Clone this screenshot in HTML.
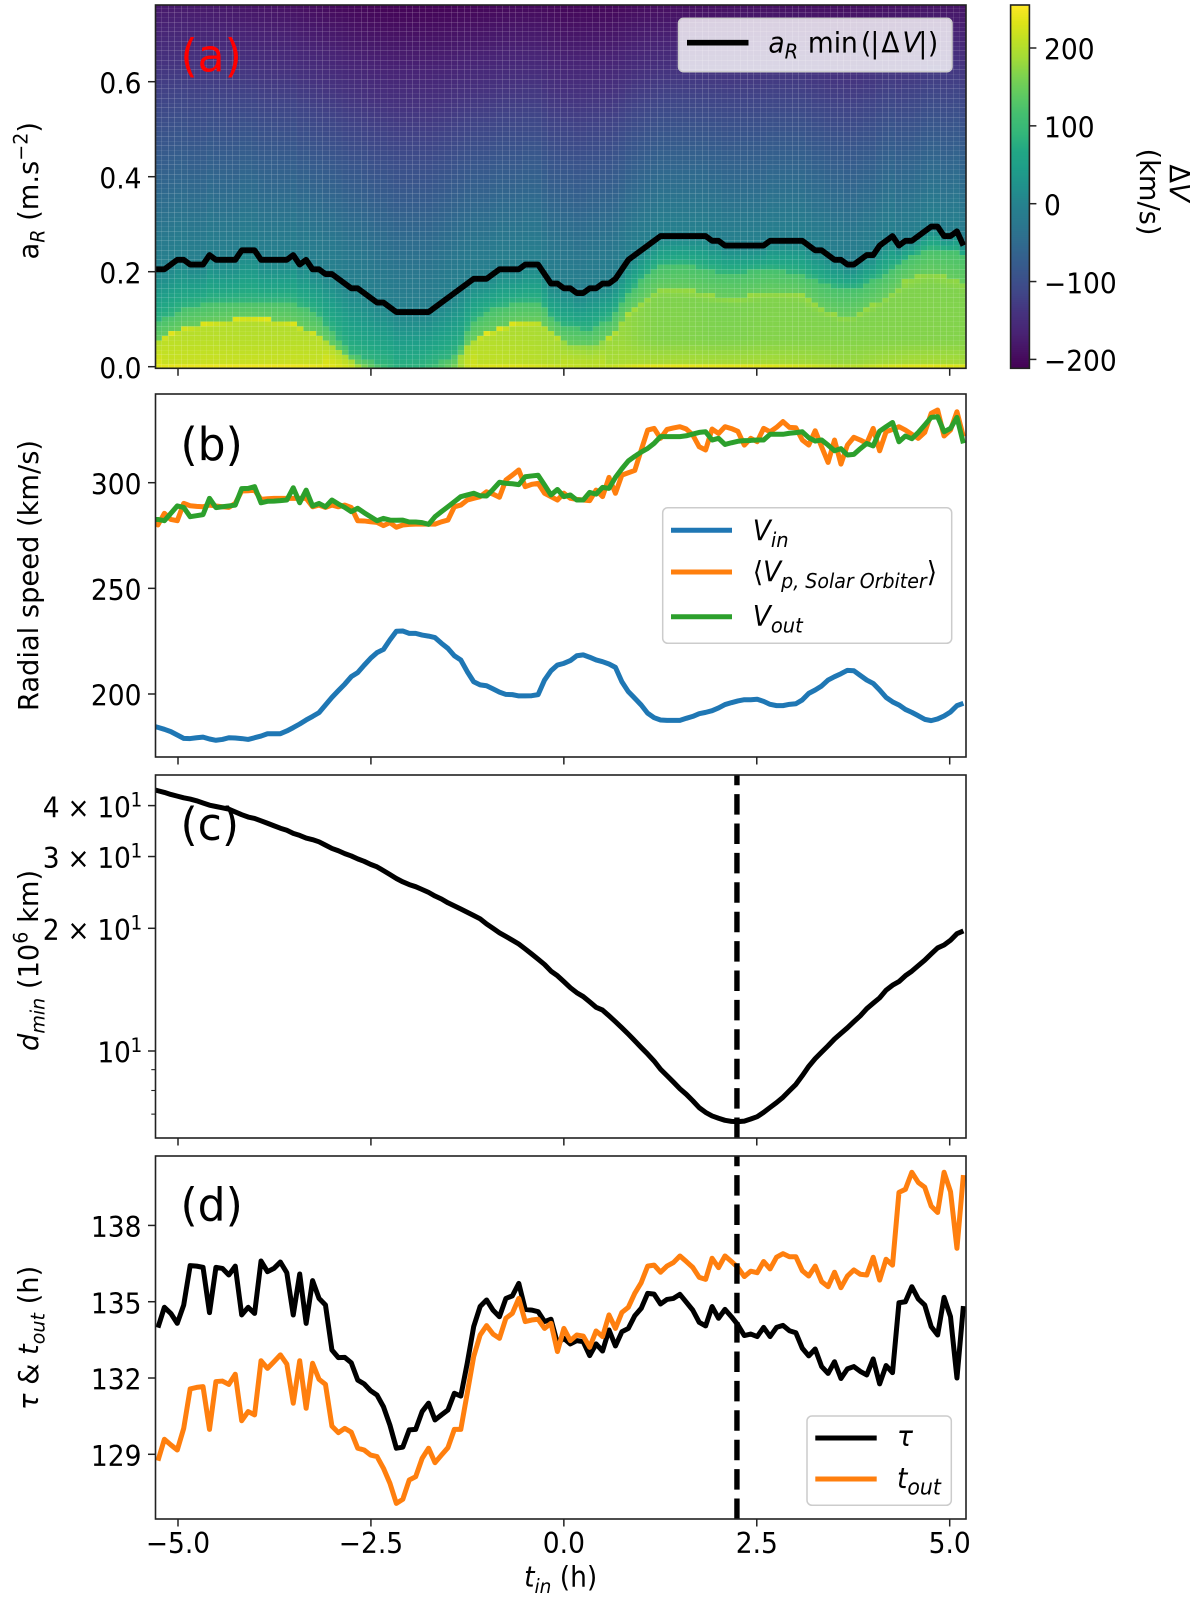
<!DOCTYPE html>
<html lang="en">
<head>
<meta charset="utf-8">
<title>Stacked time series chart</title>
<style>
html,body{margin:0;padding:0;background:#fff;}
svg{display:block;}
text{font-family:"DejaVu Sans","Liberation Sans",sans-serif;fill:#000;}
</style>
</head>
<body>
<svg id="figure" xmlns="http://www.w3.org/2000/svg" width="1200" height="1600" viewBox="0 0 1200 1600">
<defs>
<clipPath id="clip-a"><rect x="155.5" y="5" width="810.5" height="363.3"/></clipPath>
<clipPath id="clip-b"><rect x="155.5" y="394" width="810.5" height="363"/></clipPath>
<clipPath id="clip-c"><rect x="155.5" y="775" width="810.5" height="363"/></clipPath>
<clipPath id="clip-d"><rect x="155.5" y="1156" width="810.5" height="363"/></clipPath>
</defs>
<g id="panel-a">
<g id="heatmap" clip-path="url(#clip-a)"></g>
<polyline id="line-ar" clip-path="url(#clip-a)" fill="none" stroke="#000" stroke-width="5.8" stroke-linejoin="round"/>
<text transform="translate(180.5,71.5) scale(1,1.03)" font-size="44" style="fill:#f00">(a)</text>
<g>
<rect x="678.5" y="18.3" width="273.5" height="53.4" rx="5" fill="#fff" fill-opacity="0.8" stroke="#ccc" stroke-width="1.5"/>
<line x1="687" y1="42.7" x2="748.5" y2="42.7" stroke="#000" stroke-width="5.6"/>
<text transform="translate(768.4,52.3) scale(1,1.07)" font-size="26.5"><tspan font-style="italic">a</tspan><tspan font-style="italic" font-size="19.5" dy="6">R</tspan><tspan x="39.5" dy="-6">min</tspan><tspan x="92.5">(</tspan><tspan x="102">|</tspan><tspan x="113">Δ</tspan><tspan x="134" font-style="italic">V</tspan><tspan x="150">|</tspan><tspan x="159.5">)</tspan></text>
</g>
</g>
<g id="panel-b">
<g clip-path="url(#clip-b)">
<polyline id="line-vin" fill="none" stroke="#1f77b4" stroke-width="5" stroke-linejoin="round"/>
<polyline id="line-vp" fill="none" stroke="#ff7f0e" stroke-width="5" stroke-linejoin="round"/>
<polyline id="line-vout" fill="none" stroke="#2ca02c" stroke-width="5" stroke-linejoin="round"/>
</g>
<text transform="translate(180.5,460) scale(1,1.03)" font-size="44">(b)</text>
<g>
<rect x="662.7" y="507.7" width="289" height="135.6" rx="5" fill="#fff" fill-opacity="0.8" stroke="#ccc" stroke-width="1.5"/>
<line x1="671" y1="530.3" x2="732" y2="530.3" stroke="#1f77b4" stroke-width="5"/>
<line x1="671" y1="572" x2="732" y2="572" stroke="#ff7f0e" stroke-width="5"/>
<line x1="671" y1="616.7" x2="732" y2="616.7" stroke="#2ca02c" stroke-width="5"/>
<text transform="translate(752.7,540.7) scale(1,1.07)" font-size="26.5"><tspan font-style="italic">V</tspan><tspan font-style="italic" font-size="19.5" dy="6">in</tspan></text>
<text transform="translate(752.7,581.7) scale(1,1.07)" font-size="26.5"><tspan>⟨</tspan><tspan font-style="italic">V</tspan><tspan font-style="italic" font-size="19" dy="6">p, Solar Orbiter</tspan><tspan dy="-6">⟩</tspan></text>
<text transform="translate(752.7,626) scale(1,1.07)" font-size="26.5"><tspan font-style="italic">V</tspan><tspan font-style="italic" font-size="19.5" dy="6">out</tspan></text>
</g>
</g>
<g id="panel-c">
<g clip-path="url(#clip-c)">
<polyline id="line-dmin" fill="none" stroke="#000" stroke-width="5" stroke-linejoin="round"/>
<line id="dash-c" stroke="#000" stroke-width="5.4" stroke-dasharray="20.5 8.9"/>
</g>
<text transform="translate(180.5,840) scale(1,1.03)" font-size="44">(c)</text>
</g>
<g id="panel-d">
<g clip-path="url(#clip-d)">
<polyline id="line-tau" fill="none" stroke="#000" stroke-width="5" stroke-linejoin="round"/>
<polyline id="line-tout" fill="none" stroke="#ff7f0e" stroke-width="5" stroke-linejoin="round"/>
<line id="dash-d" stroke="#000" stroke-width="5.4" stroke-dasharray="20.5 8.9"/>
</g>
<text transform="translate(180.5,1220.7) scale(1,1.03)" font-size="44">(d)</text>
<g>
<rect x="807" y="1416" width="144.3" height="89.3" rx="5" fill="#fff" fill-opacity="0.8" stroke="#ccc" stroke-width="1.5"/>
<line x1="815.3" y1="1438" x2="876.7" y2="1438" stroke="#000" stroke-width="5"/>
<line x1="815.3" y1="1479" x2="876.7" y2="1479" stroke="#ff7f0e" stroke-width="5"/>
<text transform="translate(897,1446) scale(1,1.07)" font-size="26.5" font-style="italic">τ</text>
<text transform="translate(897,1488) scale(1,1.07)" font-size="26.5"><tspan font-style="italic">t</tspan><tspan font-style="italic" font-size="20.5" dy="6">out</tspan></text>
</g>
</g>
<g id="axes-decor"></g>
<g id="colorbar"></g>
<text transform="translate(38,259.5) rotate(-90) scale(1.03,1.05)" font-size="26.5" xml:space="preserve">a<tspan font-style="italic" font-size="18.5" dy="6">R</tspan><tspan dy="-6"> (m.s</tspan><tspan font-size="18.5" dy="-10">−2</tspan><tspan dy="10">)</tspan></text>
<text transform="translate(38,575.5) rotate(-90) scale(1.03,1.05)" font-size="26.5" text-anchor="middle">Radial speed (km/s)</text>
<text transform="translate(38,1051) rotate(-90) scale(1.03,1.05)" font-size="26.5" xml:space="preserve"><tspan font-style="italic">d</tspan><tspan font-style="italic" font-size="18.5" dy="6">min</tspan><tspan dy="-6"> (10</tspan><tspan font-size="18.5" dy="-10">6</tspan><tspan dy="10"> km)</tspan></text>
<text transform="translate(38,1410) rotate(-90) scale(1.03,1.05)" font-size="26.5" xml:space="preserve"><tspan font-style="italic">τ</tspan><tspan> &amp; </tspan><tspan font-style="italic">t</tspan><tspan font-style="italic" font-size="18.5" dy="6">out</tspan><tspan dy="-6"> (h)</tspan></text>
<text transform="translate(560.7,1586.7) scale(1,1.07)" font-size="26.5" text-anchor="middle" xml:space="preserve"><tspan font-style="italic">t</tspan><tspan font-style="italic" font-size="18.5" dy="6">in</tspan><tspan dy="-6"> (h)</tspan></text>
<text transform="translate(1170,183) rotate(90) scale(1.03,1.05)" font-size="26.5" text-anchor="middle"><tspan>Δ</tspan><tspan font-style="italic">V</tspan></text>
<text transform="translate(1140,192) rotate(90) scale(1.03,1.05)" font-size="26.5" text-anchor="middle">(km/s)</text>
</svg>
<script>
// Shared time grid: panels a-c carry one extra sample before tStart, which runs to the left spine
const tStart = -5.26;
const tStep = 0.0835;

// Panel (a): acceleration of minimum |dV|
const aRMin = [.205,
.205,.205,.215,.225,.225,.215,.215,.215,.235,.225,
.225,.225,.225,.245,.245,.245,.225,.225,.225,.225,
.225,.235,.215,.225,.205,.205,.195,.195,.185,.175,
.165,.165,.155,.145,.135,.135,.125,.115,.115,.115,
.115,.115,.115,.125,.135,.145,.155,.165,.175,.185,
.185,.185,.195,.205,.205,.205,.205,.215,.215,.215,
.195,.175,.175,.165,.165,.155,.155,.165,.165,.175,
.175,.185,.205,.225,.235,.245,.255,.265,.275,.275,
.275,.275,.275,.275,.275,.275,.265,.265,.255,.255,
.255,.255,.255,.255,.255,.265,.265,.265,.265,.265,
.265,.255,.245,.245,.235,.225,.225,.215,.215,.225,
.235,.235,.255,.265,.275,.255,.265,.265,.275,.285,
.295,.295,.275,.275,.285,.255];

// Panel (a): heatmap read as band heights and levels at these times
const contourTimes = [-5.27,-4.93,-4.55,-4.11,-3.55,-3.2,-2.99,-2.77,-2.55,-2.2,-1.85,-1.45,-1.31,-1.22,-0.96,-0.61,-0.31,-0.18,0.01,0.34,0.64,0.77,0.99,1.21,1.54,1.98,2.24,2.63,3.06,3.36,3.62,3.8,4.1,4.45,4.74,5.21];
const limeEdgeHeight = [.056,.084,.095,.105,.095,.07,.042,.014,0,0,0,0,.03,.056,.073,.095,.098,.08,.05,.042,.066,.105,.134,.165,.165,.15,.145,.158,.155,.12,.105,.11,.14,.183,.2,.175];
const greenEdgeHeight = [.092,.123,.136,.14,.14,.11,.07,.028,.014,0,0,.02,.045,.092,.118,.136,.136,.105,.085,.075,.105,.14,.18,.21,.218,.2,.198,.204,.197,.176,.165,.163,.19,.225,.25,.24];
const floorLevel = [235,240,242,245,245,240,235,220,150,80,85,150,200,225,230,232,225,222,215,210,215,222,232,236,238,236,235,232,225,215,205,205,220,232,235,228];
const bodyLevel = [205,203,202,200,200,200,200,195,150,80,85,150,195,198,198,195,192,190,185,180,178,178,170,165,165,162,162,165,165,165,165,165,165,165,165,165];
const edgeLevel = [236,236,236,236,236,236,236,236,236,236,236,236,236,236,236,236,236,236,225,225,215,200,185,180,180,180,180,180,180,180,180,180,180,178,176,175];
const topLevel = [-178,-178,-180,-185,-190,-197,-200,-203,-206,-208,-208,-207,-205,-205,-203,-200,-200,-202,-204,-203,-203,-200,-197,-195,-193,-192,-190,-190,-190,-192,-192,-192,-190,-188,-186,-185];

// Panel (b): radial speeds
const vIn = [185,
184.2,183.3,182.2,180.6,179,178.9,179.3,179.6,178.7,178.1,
178.5,179.3,179.2,178.9,178.5,179.3,180.1,181.2,181.2,181.2,
182.5,184.1,185.8,187.7,189.4,191.2,194.8,198.4,201.6,204.7,
208.2,210.1,213.6,216.9,219.6,221.1,225.6,229.7,229.8,228.7,
228.7,227.9,227.4,226.7,224,221.6,218.1,216.1,210.6,205.8,
204.3,203.9,202.4,200.9,199.8,199.7,199.1,199.1,199.2,199.7,
206.6,211,213.7,214.5,215.8,218.1,218.5,217.4,216.1,215.3,
214.2,212.6,205.8,201.1,198,194.8,190.9,188.8,187.7,187.5,
187.5,187.5,188.5,189.4,190.7,191.3,192.1,193.4,195,195.9,
196.7,197.3,197.3,197.5,196.5,195.1,194.5,194.5,195.1,195.4,
197.2,200.3,201.9,203.8,206.6,208.2,209.6,211.2,211,208.8,
206.6,205,201.9,198.4,196.3,194.8,192.7,191.3,189.7,188,
187.4,188.2,189.6,191.5,194.5,195.6];
const vProton = [283,
280,285.5,282.6,282,290.2,289.1,288.8,288.6,289.4,289,
288.6,288.3,290.2,296.1,296.2,296.5,292.1,292.4,292.6,292.6,
292.6,292.6,292.6,292.6,288.6,289.4,288.3,289.4,288.6,289.4,
288.3,282,281.9,281.5,281.2,279.7,281.1,278.9,280,280.3,
280.4,280.4,280.4,280.4,281.5,282.3,288.6,289.4,291.8,292.6,
293.4,295.7,294.6,293.1,301.3,303.6,306,298.1,299.2,299.7,
295,293.4,291.8,295,292.6,292.1,291.8,291.5,296.5,293.4,
302.5,295,303.6,304.7,305.8,315.5,324.9,325.7,321,325.2,
325.9,326.5,325.4,322.6,317,315.5,325.4,323.3,326.5,325.6,
324.3,317.8,321,319.4,325.7,324.1,326.2,328.9,326.2,326,
320.2,317.8,324.6,317,309.6,320.2,308.8,317.8,321.5,320.2,
318.6,325.7,315.1,324.1,325.2,326.5,324.9,322.9,321,323.8,
332.8,334.4,322.1,324.9,333.6,321.8];
const vOut = [282.6,
282.6,282,285.5,289,288.3,283.9,284.4,284.9,292.6,288.2,
288.6,289,289.4,297.2,297.3,298.1,290.5,291.2,291.3,291.5,
291.8,297.6,290.5,296.5,289,290.2,288.6,291.8,289.9,288.3,
286.3,287.9,285.8,283.9,282,283.1,282.3,282.2,282.3,281.4,
281.4,281.1,280.3,283.9,286.3,288.6,291,293.4,294.2,295,
293.8,293.7,296.8,300.2,299.7,299.5,299.1,302.8,303.2,303.5,
298.9,294.2,296.8,293.4,294.2,291.8,291.8,295.4,294.6,297.8,
297.3,302.5,306.6,310.3,312.5,314.5,316.2,318.6,321.8,321.8,
321.8,321.8,322.2,323,323.8,324.1,320.2,321,318.1,318.9,
319.6,319.9,320,320.2,320.2,322.9,322.9,322.9,323.4,323.7,
324.1,321.3,319.7,320.2,317.8,315.1,316.1,313.1,313.4,316.1,
318.6,317.4,324.4,326.5,328.5,319.4,322.1,320.8,323.8,327.3,
330.9,331.2,324.1,325.7,330.9,318.6];

// Panel (c): minimum distance
const dMin = [43.9,
43.5,43.1,42.6,42.2,41.8,41.5,41.1,40.6,40.1,39.8,
39.5,39.2,38.6,38,37.5,37.2,36.7,36.2,35.7,35.2,
34.8,34.2,33.8,33.3,33,32.6,32,31.4,31,30.5,
30.1,29.6,29.2,28.7,28.3,27.7,27.1,26.5,26,25.6,
25.3,24.9,24.5,24,23.6,23.1,22.7,22.3,21.9,21.5,
21.1,20.5,20,19.5,19.1,18.7,18.3,17.8,17.3,16.8,
16.3,15.7,15.3,14.8,14.3,13.9,13.6,13.2,12.8,12.6,
12.2,11.8,11.4,11,10.6,10.2,9.83,9.45,9.02,8.7,
8.39,8.08,7.83,7.55,7.26,7.07,6.93,6.84,6.76,6.72,
6.71,6.73,6.81,6.9,7.07,7.27,7.47,7.7,7.99,8.28,
8.7,9.17,9.58,9.94,10.3,10.7,11.05,11.4,11.8,12.2,
12.7,13.1,13.5,14.1,14.5,14.8,15.3,15.7,16.2,16.7,
17.3,17.9,18.2,18.7,19.4,19.7];

// Panel (d): travel time and outgoing time
const tau = [
133.98,134.78,134.54,134.15,134.87,136.42,136.40,136.35,134.57,136.35,
136.31,136.05,136.40,134.48,134.78,134.54,136.60,136.18,136.31,136.56,
136.14,134.48,136.09,134.15,135.83,135.13,134.87,133.10,132.80,132.81,
132.60,131.92,131.77,131.50,131.33,130.87,130.15,129.24,129.28,129.96,
129.98,130.68,131.01,130.35,130.55,130.74,131.40,131.29,132.58,134.02,
134.81,135.07,134.67,134.41,135.13,135.23,135.72,134.70,134.67,134.61,
134.22,134.31,133.36,133.56,133.34,133.47,133.43,132.88,133.34,133.06,
133.89,133.26,133.82,133.95,134.45,134.74,135.33,135.30,134.91,135.09,
135.13,135.29,134.98,134.67,134.19,134.05,134.81,134.35,134.70,134.41,
134.09,133.67,133.73,133.63,133.99,133.63,133.99,134.07,133.86,133.78,
133.17,132.87,133.14,132.45,132.18,132.64,131.98,132.36,132.45,132.26,
132.12,132.75,131.77,132.49,132.21,134.96,135.00,135.59,135.11,134.87,
134.02,133.69,135.17,134.41,132.00,134.83];
const tOut = [
128.75,129.59,129.37,129.17,130.02,131.57,131.63,131.66,129.98,131.86,
131.88,131.75,132.15,130.32,130.68,130.55,132.68,132.38,132.64,132.91,
132.55,131.01,132.68,130.81,132.58,131.95,131.75,130.11,129.85,130.02,
129.87,129.24,129.17,128.97,128.91,128.45,127.86,127.07,127.23,127.99,
128.12,128.84,129.24,128.67,128.97,129.26,129.98,129.98,131.40,132.84,
133.69,134.06,133.73,133.56,134.35,134.54,135.13,134.22,134.28,134.31,
133.95,134.15,133.04,133.95,133.47,133.69,133.65,133.21,133.85,133.63,
134.48,133.95,134.58,134.78,135.33,135.75,136.40,136.44,136.16,136.40,
136.54,136.80,136.58,136.35,135.96,135.88,136.71,136.34,136.80,136.58,
136.35,135.99,136.20,136.14,136.58,136.29,136.75,136.89,136.77,136.77,
136.22,136.01,136.40,135.79,135.59,136.16,135.55,136.01,136.25,136.08,
136.05,136.75,135.85,136.67,136.44,139.30,139.42,140.09,139.69,139.50,
138.76,138.51,140.09,139.33,137.10,139.98];

const closestApproachTime = 2.243;

// Tick values and printed labels
const xTicks = [-5, -2.5, 0, 2.5, 5];
const xTickLabels = ["−5.0", "−2.5", "0.0", "2.5", "5.0"];
const aTicks = [0, 0.2, 0.4, 0.6];
const aTickLabels = ["0.0", "0.2", "0.4", "0.6"];
const bTicks = [200, 250, 300];
const bTickLabels = ["200", "250", "300"];
const cTicks = [10, 20, 30, 40];
const cTickLabels = ["10", "2 × 10", "3 × 10", "4 × 10"];
const cMinorTicks = [7, 8, 9];
const dTicks = [129, 132, 135, 138];
const dTickLabels = ["129", "132", "135", "138"];
const barTicks = [-200, -100, 0, 100, 200];
const barTickLabels = ["−200", "−100", "0", "100", "200"];

// Colour scale
const barMin = -211;
const barMax = 255;
const viridis = ["#440154","#471365","#482475","#46327e","#414487","#3b528b","#355f8d","#2f6c8e","#2a788e","#26828e","#21918c","#1f9e89","#22a884","#35b779","#44bf70","#5ec962","#7ad151","#a0da39","#bddf26","#dde318","#fde725"];

// Axis functions
const NS = "http://www.w3.org/2000/svg";
const X_LEFT = 155.5, X_RIGHT = 966;
function xOf(t) { return 563.85 + 77.17 * t; }
function timeAt(i) { return tStart + tStep * i; }
function yA(a) { return 366.7 - 475 * a; }
function yB(v) { return 694 - 2.113 * (v - 200); }
function yC(v) { return 1051 - 407.6 * Math.log10(v / 10); }
function yD(v) { return 1454.3 - 25.43 * (v - 129); }
function yBar(v) { return 203.7 - 0.7785 * v; }

function hex(c) { return [parseInt(c.slice(1,3),16), parseInt(c.slice(3,5),16), parseInt(c.slice(5,7),16)]; }
function colorOf(v) {
  let n = (v - barMin) / (barMax - barMin);
  n = Math.max(0, Math.min(1, n)) * (viridis.length - 1);
  const k = Math.min(viridis.length - 2, Math.floor(n));
  const f = n - k;
  const c0 = hex(viridis[k]), c1 = hex(viridis[k + 1]);
  return "rgb(" + Math.round(c0[0] + (c1[0] - c0[0]) * f) + "," + Math.round(c0[1] + (c1[1] - c0[1]) * f) + "," + Math.round(c0[2] + (c1[2] - c0[2]) * f) + ")";
}
function atTime(arr, t) {
  if (t <= contourTimes[0]) return arr[0];
  for (let k = 1; k < contourTimes.length; k++) {
    if (t <= contourTimes[k]) {
      const f = (t - contourTimes[k - 1]) / (contourTimes[k] - contourTimes[k - 1]);
      return arr[k - 1] + (arr[k] - arr[k - 1]) * f;
    }
  }
  return arr[arr.length - 1];
}
function between(a0, v0, a1, v1, a) { return a1 <= a0 ? v1 : v0 + (v1 - v0) * (a - a0) / (a1 - a0); }
function cellValue(i, a) {
  const t = timeAt(i);
  const line = aRMin[i + 1];
  const edge = atTime(limeEdgeHeight, t);
  const green = Math.min(atTime(greenEdgeHeight, t), line - 0.02);
  const floorV = atTime(floorLevel, t);
  const body = atTime(bodyLevel, t);
  const edgeV = atTime(edgeLevel, t);
  const top = atTime(topLevel, t);
  if (a >= line) return between(line, 0, 0.76, top, a);
  if (a >= green && green > 0.002) return between(green, 88, line, 0, a);
  if (green <= 0.002) return between(0, floorV, line, 0, a);
  if (a >= edge) return edge > 0.002 ? between(edge, 145, green, 118, a) : between(0, floorV, green, 118, a);
  if (edge < 0.06) return between(0, floorV, 0.8 * edge, body, a);
  if (a < 0.005) return floorV;
  if (a < 0.055) return between(0.005, body + (floorV - body) * 0.4, 0.055, body + 3, a);
  if (a < 0.88 * edge) return between(0.055, body + 3, 0.88 * edge, body, a);
  return between(0.88 * edge, body, edge, edgeV, a);
}

// Heatmap
const heatmap = document.getElementById("heatmap");
const cellCount = aRMin.length - 1;
const cellW = (X_RIGHT - X_LEFT) / cellCount;
for (let i = 0; i < cellCount; i++) {
  for (let j = 0; j <= 76; j++) {
    const a = j * 0.01;
    const cell = document.createElementNS(NS, "rect");
    cell.setAttribute("x", X_LEFT + i * cellW);
    cell.setAttribute("y", yA(a + 0.005));
    cell.setAttribute("width", cellW - 0.07);
    cell.setAttribute("height", 4.75 - 0.06);
    cell.setAttribute("fill", colorOf(cellValue(i, a)));
    
    
    heatmap.appendChild(cell);
  }
}

// Lines
function drawLine(id, values, yFn, firstTime) {
  const pts = [];
  for (let i = 0; i < values.length; i++) pts.push(xOf(firstTime + tStep * i).toFixed(2) + "," + yFn(values[i]).toFixed(2));
  document.getElementById(id).setAttribute("points", pts.join(" "));
}
drawLine("line-ar", aRMin, yA, tStart - tStep);
drawLine("line-vin", vIn, yB, tStart - tStep);
drawLine("line-vp", vProton, yB, tStart - tStep);
drawLine("line-vout", vOut, yB, tStart - tStep);
drawLine("line-dmin", dMin, yC, tStart - tStep);
drawLine("line-tau", tau, yD, tStart);
drawLine("line-tout", tOut, yD, tStart);

function placeDash(id, top, bottom) {
  const d = document.getElementById(id);
  d.setAttribute("x1", xOf(closestApproachTime));
  d.setAttribute("x2", xOf(closestApproachTime));
  d.setAttribute("y1", bottom);
  d.setAttribute("y2", top);
}
placeDash("dash-c", 775, 1138);
placeDash("dash-d", 1156, 1519);

// Frames, ticks, tick labels
const decor = document.getElementById("axes-decor");
const INK = "#222";
const panels = [
  { top: 5, bottom: 368.3 },
  { top: 394, bottom: 757 },
  { top: 775, bottom: 1138 },
  { top: 1156, bottom: 1519 }
];
function addTick(parent, x1, y1, x2, y2, w) {
  const tick = document.createElementNS(NS, "line");
  tick.setAttribute("x1", x1);
  tick.setAttribute("y1", y1);
  tick.setAttribute("x2", x2);
  tick.setAttribute("y2", y2);
  tick.setAttribute("stroke", INK);
  tick.setAttribute("stroke-width", w);
  
  
  parent.appendChild(tick);
}
function addLabel(parent, x, y, str, anchor, sup) {
  const label = document.createElementNS(NS, "text");
  label.setAttribute("transform", "translate(" + x + "," + y + ") scale(1,1.07)");
  label.setAttribute("font-size", "26.5");
  label.setAttribute("text-anchor", anchor);
  
  
  label.textContent = str;
  if (sup) {
    label.setAttribute("letter-spacing", "-0.3");
    const s = document.createElementNS(NS, "tspan");
    s.setAttribute("font-size", "18.5");
    s.setAttribute("dy", "-10");
    s.textContent = sup;
    label.appendChild(s);
  }
  parent.appendChild(label);
}
panels.forEach(function (p, idx) {
  const frame = document.createElementNS(NS, "rect");
  frame.setAttribute("x", X_LEFT);
  frame.setAttribute("y", p.top);
  frame.setAttribute("width", X_RIGHT - X_LEFT);
  frame.setAttribute("height", p.bottom - p.top);
  frame.setAttribute("fill", "none");
  frame.setAttribute("stroke", INK);
  frame.setAttribute("stroke-width", "1.6");
  
  
  decor.appendChild(frame);
  xTicks.forEach(function (t, k) {
    addTick(decor, xOf(t), p.bottom, xOf(t), p.bottom + 7.5, 1.5);
    if (idx === 3) addLabel(decor, xOf(t), 1553, xTickLabels[k], "middle");
  });
});
function yTicksFor(values, labels, yFn) {
  values.forEach(function (v, k) {
    addTick(decor, X_LEFT, yFn(v), X_LEFT - 7.5, yFn(v), 1.5);
    addLabel(decor, 141.5, yFn(v) + 11.7, labels[k], "end");
  });
}
yTicksFor(aTicks, aTickLabels, yA);
yTicksFor(bTicks, bTickLabels, yB);
yTicksFor(dTicks, dTickLabels, yD);
cTicks.forEach(function (v, k) {
  addTick(decor, X_LEFT, yC(v), X_LEFT - 7.5, yC(v), 1.5);
  addLabel(decor, 142, yC(v) + 11.7, cTickLabels[k], "end", "1");
});
cMinorTicks.forEach(function (v) {
  addTick(decor, X_LEFT, yC(v), X_LEFT - 4.2, yC(v), 1.1);
});

// Colorbar
const bar = document.getElementById("colorbar");
const BAR_L = 1010.6, BAR_R = 1029.4, BAR_T = 5, BAR_B = 368.3;
for (let k = 0; k < 182; k++) {
  const h = (BAR_B - BAR_T) / 182;
  const seg = document.createElementNS(NS, "rect");
  seg.setAttribute("x", BAR_L);
  seg.setAttribute("y", BAR_T + k * h);
  seg.setAttribute("width", BAR_R - BAR_L);
  seg.setAttribute("height", h + 0.4);
  seg.setAttribute("fill", colorOf(barMax - (k + 0.5) * (barMax - barMin) / 182));
  
  
  bar.appendChild(seg);
}
const barFrame = document.createElementNS(NS, "rect");
barFrame.setAttribute("x", BAR_L);
barFrame.setAttribute("y", BAR_T);
barFrame.setAttribute("width", BAR_R - BAR_L);
barFrame.setAttribute("height", BAR_B - BAR_T);
barFrame.setAttribute("fill", "none");
barFrame.setAttribute("stroke", INK);
barFrame.setAttribute("stroke-width", "1.6");


bar.appendChild(barFrame);
barTicks.forEach(function (v, k) {
  addTick(bar, BAR_R, yBar(v), BAR_R + 7, yBar(v), 1.5);
  addLabel(bar, 1044, yBar(v) + 11.7, barTickLabels[k], "start");
});
</script>
</body>
</html>
